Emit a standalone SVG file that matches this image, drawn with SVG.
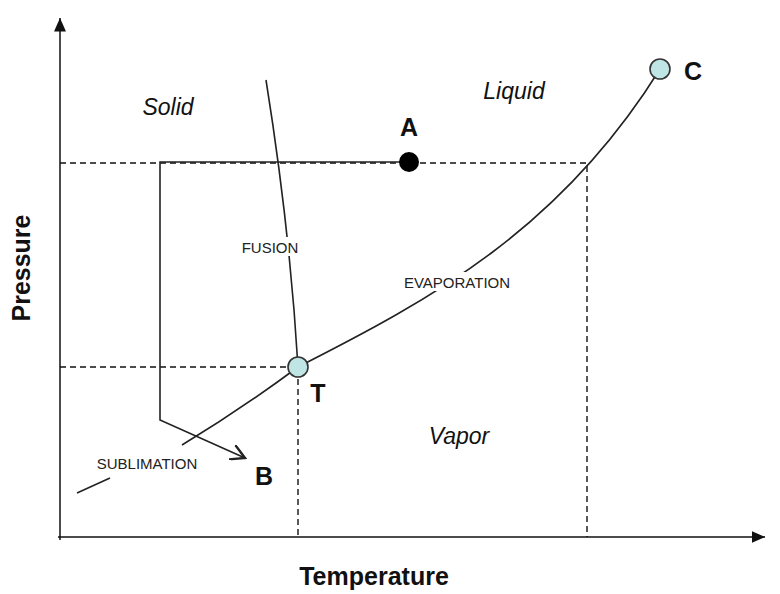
<svg xmlns="http://www.w3.org/2000/svg" width="780" height="594" viewBox="0 0 780 594">
<defs>
<style>
.ln{fill:none;stroke:#222;stroke-width:1.6}
.d{fill:none;stroke:#111;stroke-width:1.4;stroke-dasharray:6,4}
.lbl{font-family:"Liberation Sans",Arial,sans-serif;font-size:15px;fill:#222}
.reg{font-family:"Liberation Sans",Arial,sans-serif;font-size:23px;font-style:italic;fill:#111}
.pt{font-family:"Liberation Sans",Arial,sans-serif;font-size:25px;font-weight:bold;fill:#111}
.ax{font-family:"Liberation Sans",Arial,sans-serif;font-size:25px;font-weight:bold;fill:#111}
.cir{fill:#bfe5e5;stroke:#333;stroke-width:1.6}
</style>
<marker id="ah" markerWidth="10" markerHeight="10" refX="9" refY="5" orient="auto"><path d="M0,0 L9,5 L0,10" fill="none" stroke="#222" stroke-width="1.5"/></marker>
<marker id="axh" markerWidth="10" markerHeight="10" refX="9" refY="5" orient="auto"><path d="M0,1 L9,5 L0,9 Z" fill="#111"/></marker>
</defs>
<rect width="780" height="594" fill="#fff"/>
<g id="axes">
<line x1="60" y1="540" x2="60" y2="18" stroke="#111" stroke-width="1.5" marker-end="url(#axh)"/>
<line x1="58" y1="537" x2="765" y2="537" stroke="#111" stroke-width="1.5" marker-end="url(#axh)"/>
<text class="ax" x="374" y="585" text-anchor="middle">Temperature</text>
<text class="ax" transform="translate(30,268) rotate(-90)" text-anchor="middle">Pressure</text>
</g>
<g id="connectors">
<path class="d" d="M60,163 H587 V537"/>
<path class="d" d="M60,367 H298 V537"/>
<path class="ln" d="M266,80 Q290,230 298,367"/>
<path class="ln" d="M298,367 C430,300 560,230 660,69"/>
<path class="ln" d="M298,367 Q240,410 182,445"/>
<path class="ln" d="M77,493 L110,478"/>
<path class="ln" d="M409,162 H160 V420 L245,458" marker-end="url(#ah)"/>
</g>
<g id="labels">
<rect x="234" y="237" width="72" height="19" fill="#fff"/>
<text class="lbl" x="270" y="253" text-anchor="middle">FUSION</text>
<rect x="392" y="272" width="130" height="19" fill="#fff"/>
<text class="lbl" x="457" y="288" text-anchor="middle">EVAPORATION</text>
<text class="lbl" x="147" y="469" text-anchor="middle">SUBLIMATION</text>
<text class="reg" x="168" y="115" text-anchor="middle">Solid</text>
<text class="reg" x="514" y="99" text-anchor="middle">Liquid</text>
<text class="reg" x="459" y="444" text-anchor="middle">Vapor</text>
</g>
<g id="A"><circle cx="409" cy="162" r="10" fill="#000"/><text class="pt" x="409" y="136" text-anchor="middle">A</text></g>
<g id="B"><text class="pt" x="264" y="485" text-anchor="middle">B</text></g>
<g id="T"><circle class="cir" cx="298" cy="367" r="10"/><text class="pt" x="318" y="402" text-anchor="middle">T</text></g>
<g id="C"><circle class="cir" cx="660" cy="69" r="10"/><text class="pt" x="693" y="80" text-anchor="middle">C</text></g>
</svg>
